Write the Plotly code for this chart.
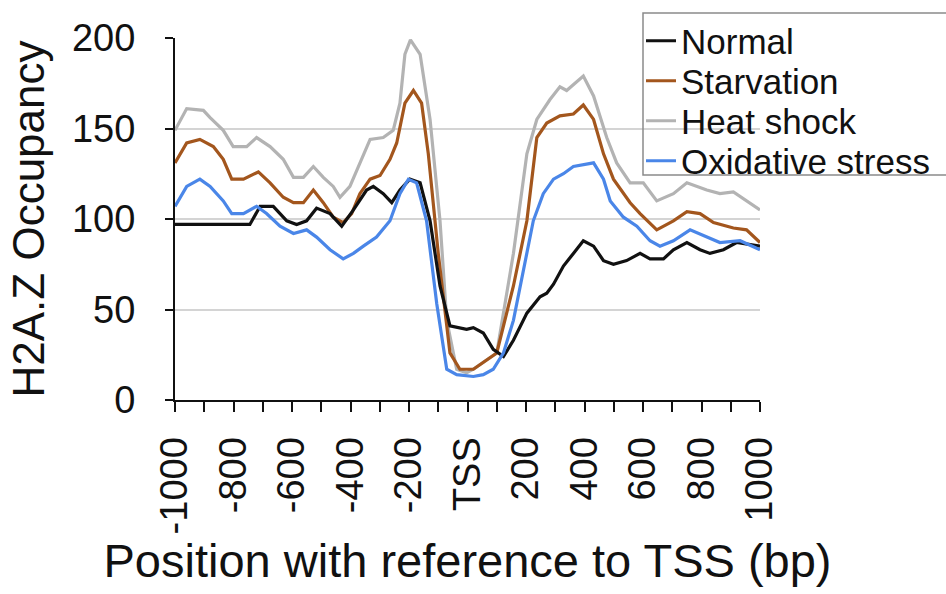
import plotly.graph_objects as go

# ---- data ----
normal_x = [-1000, -744, -709, -664, -618, -584, -550, -516, -470, -430, -390, -345, -322, -288, -259, -231,
            -197, -162, -128, -94, -60, -3, 20, 54, 88, 123, 157, 203, 248, 271, 294, 328, 362, 396, 431,
            465, 499, 544, 590, 624, 670, 704, 750, 795, 829, 875, 920, 1000]
normal_y = [97, 97, 107, 107, 99, 97, 99, 106, 103, 96, 105, 116, 118, 114, 109, 116,
            122, 120, 99, 63, 41, 39, 40, 37, 28, 24, 33, 48, 57, 59, 64, 74, 81, 88, 85,
            77, 75, 77, 81, 78, 78, 83, 87, 83, 81, 83, 87, 85]

starv_x = [-1000, -960, -915, -869, -835, -806, -766, -715, -675, -630, -595, -561, -527, -493, -459, -425,
           -396, -368, -333, -299, -265, -242, -214, -185, -157, -134, -100, -60, -26, 20, 100, 157,
           203, 237, 271, 316, 362, 396, 431, 465, 499, 556, 590, 647, 704, 750, 795, 841, 909, 954, 1000]
starv_y = [131, 142, 144, 140, 133, 122, 122, 126, 120, 112, 109, 109, 116, 109, 101, 98,
           103, 114, 122, 124, 133, 142, 164, 171, 164, 136, 81, 26, 17, 17, 26, 63,
           99, 145, 153, 157, 158, 163, 155, 136, 122, 109, 103, 94, 99, 104, 103, 98, 95, 94, 87]

heat_x = [-1000, -960, -903, -880, -835, -801, -755, -721, -675, -630, -595, -561, -527, -493, -459, -436,
          -402, -368, -333, -288, -254, -231, -214, -195, -162, -128, -94, -71, -37, -3, 20, 100, 157,
          203, 237, 282, 316, 339, 396, 431, 476, 510, 556, 601, 647, 704, 750, 818, 863, 909, 954, 1000]
heat_y = [149, 161, 160, 156, 149, 140, 140, 145, 140, 133, 123, 123, 129, 123, 118, 112,
          118, 131, 144, 145, 149, 164, 191, 199, 191, 155, 99, 44, 17, 15, 17, 26, 81,
          136, 155, 166, 173, 171, 179, 168, 145, 131, 120, 120, 110, 114, 120, 116, 114, 115, 110, 105]

oxid_x = [-1000, -960, -915, -880, -835, -806, -766, -721, -687, -641, -595, -550, -516, -470, -425, -390,
          -356, -311, -265, -231, -202, -174, -140, -105, -71, -37, 20, 54, 88, 123, 157, 191, 225,
          259, 294, 328, 362, 431, 465, 488, 533, 579, 624, 658, 704, 761, 818, 863, 932, 1000]
oxid_y = [107, 118, 122, 118, 110, 103, 103, 107, 103, 96, 92, 94, 90, 83, 78, 81,
          85, 90, 99, 114, 122, 120, 99, 53, 17, 14, 13, 14, 17, 26, 44, 72, 99,
          114, 122, 125, 129, 131, 122, 110, 101, 96, 88, 85, 88, 94, 90, 87, 88, 83]

series_names = ["Normal", "Starvation", "Heat shock", "Oxidative stress"]
series_colors = ["#111111", "#a3561d", "#b3b3b3", "#4a86e8"]

x_tickvals = list(range(-1000, 1001, 100))
x_ticktext = [("TSS" if v == 0 else str(v)) if v % 200 == 0 else "" for v in x_tickvals]
y_tickvals = [0, 50, 100, 150, 200]

FONT = "Liberation Sans, Arial, Helvetica, sans-serif"

# plot area in pixels (for paper-coordinate conversions of legend placement)
L, R, T, B = 175, 760, 38, 400
def px_to_paper_x(px):
    return (px - L) / (R - L)
def px_to_paper_y(py):
    return (B - py) / (B - T)

series = {
    "Normal": (normal_x, normal_y),
    "Starvation": (starv_x, starv_y),
    "Heat shock": (heat_x, heat_y),
    "Oxidative stress": (oxid_x, oxid_y),
}
legend_ids = ["legend", "legend2", "legend3", "legend4"]
legend_row_centers = [41, 81, 121, 161]

fig = go.Figure()
draw_order = ["Heat shock", "Starvation", "Normal", "Oxidative stress"]
for name in draw_order:
    i = series_names.index(name)
    xs, ys = series[name]
    fig.add_trace(go.Scatter(x=xs, y=ys, mode="lines", name=name,
                             legend=legend_ids[i],
                             line=dict(color=series_colors[i], width=3.2)))

legend_layout = {}
for i, lid in enumerate(legend_ids):
    legend_layout[lid] = dict(
        x=px_to_paper_x(641), y=px_to_paper_y(legend_row_centers[i]),
        xanchor="left", yanchor="middle",
        font=dict(size=35, family=FONT, color="#111111"),
        bgcolor="rgba(255,255,255,0)", borderwidth=0,
        itemwidth=30,
    )

fig.update_layout(
    width=946, height=594,
    margin=dict(l=L, r=946 - R, t=T, b=594 - B, autoexpand=False),
    paper_bgcolor="white", plot_bgcolor="white",
    font=dict(family=FONT, color="#111111"),
    showlegend=True,
    **legend_layout,
)

# legend frame
fig.add_shape(type="rect", xref="paper", yref="paper",
              x0=px_to_paper_x(643), x1=px_to_paper_x(980),
              y0=px_to_paper_y(175), y1=px_to_paper_y(13),
              line=dict(color="#8a8a8a", width=1.5), fillcolor="rgba(0,0,0,0)", layer="above")

fig.update_xaxes(
    range=[-1000, 1000],
    tickmode="array", tickvals=x_tickvals, ticktext=x_ticktext,
    tickangle=-90,
    tickfont=dict(size=38, family=FONT, color="#111111"),
    ticks="outside", ticklen=10, tickwidth=2, tickcolor="#111111",
    ticklabelstandoff=10,
    showline=True, linecolor="#111111", linewidth=2,
    showgrid=False, zeroline=False,
    title=dict(text="Position with reference to TSS (bp)",
               font=dict(size=47, family=FONT, color="#111111"), standoff=6),
)
fig.update_yaxes(
    range=[0, 200],
    tickmode="array", tickvals=y_tickvals,
    tickfont=dict(size=38, family=FONT, color="#111111"),
    ticks="outside", ticklen=8, tickwidth=2, tickcolor="#111111",
    ticklabelstandoff=22,
    showline=True, linecolor="#111111", linewidth=2,
    showgrid=True, gridcolor="#d4d4d4", gridwidth=2,
    zeroline=False,
    title=dict(text="H2A.Z Occupancy",
               font=dict(size=44, family=FONT, color="#111111"), standoff=14),
)

fig.write_html("out.html")
